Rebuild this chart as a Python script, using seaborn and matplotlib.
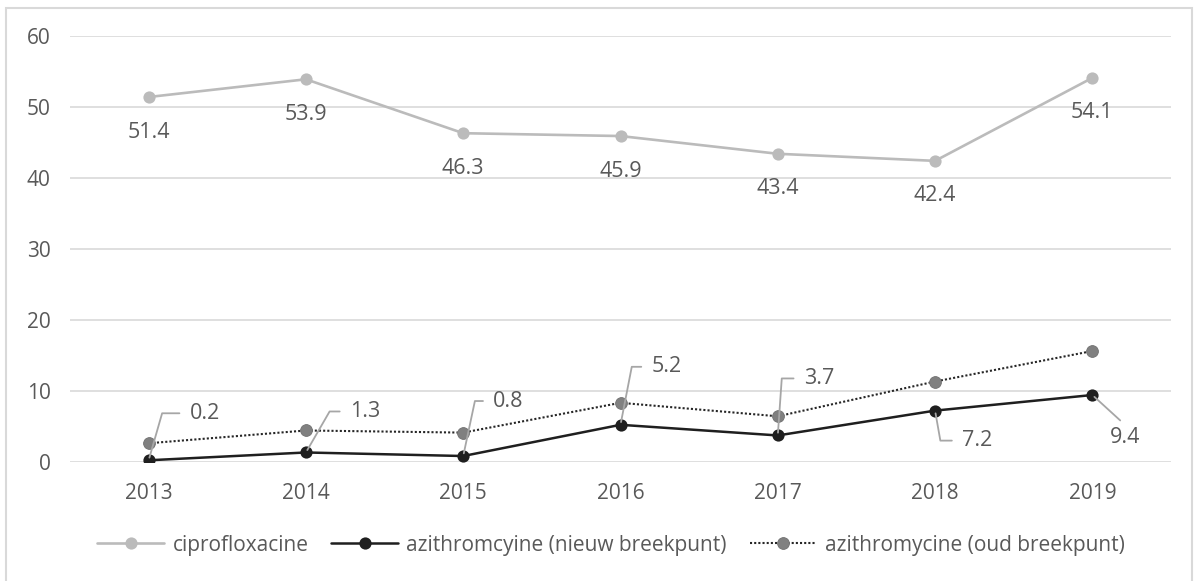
import matplotlib
matplotlib.use("Agg")
import matplotlib.pyplot as plt
import seaborn as sns
import pandas as pd
import numpy as np
from matplotlib.patches import Rectangle

years = ["2013", "2014", "2015", "2016", "2017", "2018", "2019"]
cipro = [51.4, 53.9, 46.3, 45.9, 43.4, 42.4, 54.1]
azi_new = [0.2, 1.3, 0.8, 5.2, 3.7, 7.2, 9.4]
azi_old = [2.6, 4.4, 4.1, 8.3, 6.4, 11.3, 15.6]

series_names = ["ciprofloxacine", "azithromcyine (nieuw breekpunt)", "azithromycine (oud breekpunt)"]

sns.set_theme(style="white")
plt.rcParams["font.family"] = ["Open Sans", "DejaVu Sans"]

TXT = "#595959"
GRID = "#D9D9D9"

W, H = 1201, 581
fig = plt.figure(figsize=(W / 100, H / 100), dpi=100)
ax = fig.add_axes([70 / W, 1 - 461.7 / H, 1101 / W, (461.7 - 36) / H])

pos = np.arange(len(years))
df = pd.DataFrame({"pos": pos, "cipro": cipro, "new": azi_new, "old": azi_old})

sns.lineplot(data=df, x="pos", y="cipro", ax=ax, color="#BBBBBB", lw=1.9,
             marker="o", markersize=8.8, markeredgewidth=0, label=series_names[0], zorder=3)
sns.lineplot(data=df, x="pos", y="new", ax=ax, color="#1F1F1F", lw=1.8,
             marker="o", markersize=8.8, markeredgewidth=0, label=series_names[1], zorder=4)
sns.lineplot(data=df, x="pos", y="old", ax=ax, color="#262626", lw=1.5,
             linestyle=(0, (1, 1)), marker="o", markersize=8.5, markerfacecolor="#808080",
             markeredgecolor="#707070", markeredgewidth=0.6, label=series_names[2], zorder=4)

ax.set_xlim(-0.5, len(years) - 0.5)
ax.set_ylim(0, 60)
ax.set_yticks(range(0, 61, 10))
ax.set_xticks(pos)
ax.set_xticklabels(years)
ax.set_xlabel("")
ax.set_ylabel("")
ax.grid(axis="y", color=GRID, lw=1.2)
ax.grid(axis="x", visible=False)
ax.set_axisbelow(True)
for s in ax.spines.values():
    s.set_visible(False)
ax.tick_params(axis="y", length=0, pad=14, labelsize=15, labelcolor=TXT)
ax.tick_params(axis="x", length=0, pad=15, labelsize=15, labelcolor=TXT)

# ciprofloxacine labels, centred below each point
for i, v in enumerate(cipro):
    ax.annotate(f"{v:.1f}", (i, v), xytext=(0, -35), textcoords="offset pixels",
                ha="center", va="center", fontsize=15.5, color=TXT, zorder=6)

# azithromycine (new) labels with leader lines
leader = dict(arrowstyle="-", color="#A6A6A6", lw=1.3, shrinkA=5, shrinkB=2)
offsets = [(41, 47, 74), (44, 41, 60), (30, 55, 78), (31, 58, 79),
           (26, 57, 86), (27, -30, -80)]
for i, (dx, dy, ang) in enumerate(offsets):
    v = azi_new[i]
    ax.annotate(f"{v:.1f}", (i, v), xytext=(dx, dy), textcoords="offset pixels",
                ha="left", va="center", fontsize=15.5, color=TXT, zorder=6,
                arrowprops=dict(leader, relpos=(0, 0.5),
                                connectionstyle=f"angle,angleA=0,angleB={ang},rad=0"))
i = len(azi_new) - 1
ax.annotate(f"{azi_new[i]:.1f}", (i, azi_new[i]), xytext=(33, -42), textcoords="offset pixels",
            ha="center", va="center", fontsize=15.5, color=TXT, zorder=6,
            arrowprops=dict(leader, relpos=(0.55, 1.0), shrinkA=3))

leg = ax.legend(loc="center", bbox_to_anchor=(611 / W, 1 - 545 / H),
                bbox_transform=fig.transFigure, ncol=3, frameon=False,
                fontsize=15, handlelength=3.2, handletextpad=0.4, columnspacing=1.1)
for t in leg.get_texts():
    t.set_color(TXT)

# chart area outline
fig.patches.append(Rectangle((6 / W, -0.02), 1186 / W, 1.02 - 8 / H,
                             transform=fig.transFigure, fill=False,
                             edgecolor=GRID, lw=1.5))

fig.savefig("out.png", dpi=100)
